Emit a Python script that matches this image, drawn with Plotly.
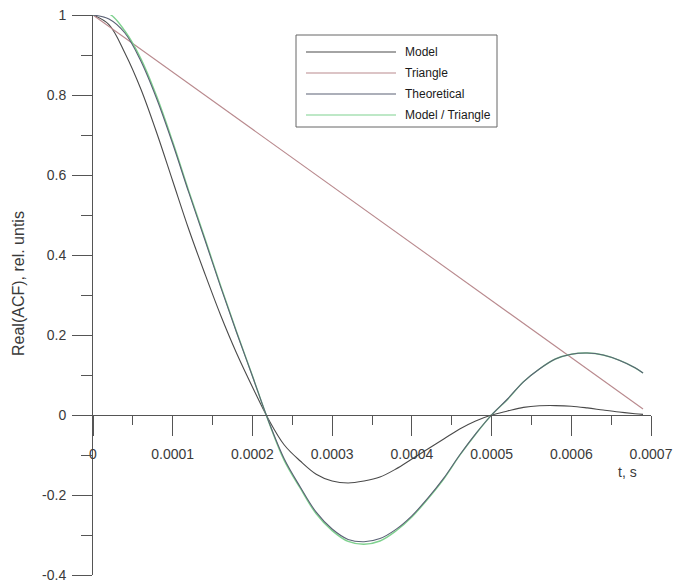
import plotly.graph_objects as go

# ---- data ----
t = [0, 0.00002, 0.00004, 0.00006, 0.00008, 0.0001, 0.00012, 0.00014, 0.00016, 0.00018,
     0.0002, 0.00022, 0.00024, 0.00026, 0.00028, 0.0003, 0.00032, 0.00034, 0.00036, 0.00038,
     0.0004, 0.00042, 0.00044, 0.00046, 0.00048, 0.0005, 0.00052, 0.00054, 0.00056, 0.00058,
     0.0006, 0.00062, 0.00064, 0.00066, 0.00068, 0.00069]

model = [1.0, 0.976, 0.905, 0.815, 0.705, 0.585, 0.465, 0.355, 0.25, 0.155,
         0.07, -0.01, -0.075, -0.115, -0.148, -0.165, -0.17, -0.165, -0.155, -0.135,
         -0.11, -0.085, -0.06, -0.035, -0.015, 0.0, 0.01, 0.019, 0.023, 0.0235,
         0.022, 0.0177, 0.0124, 0.0074, 0.0032, 0.0015]

triangle_t = [0, 0.00069]
triangle = [1.0, 0.015]

theoretical = [1.0, 0.99, 0.955, 0.885, 0.79, 0.678, 0.557, 0.44, 0.321, 0.207,
               0.097, -0.014, -0.11, -0.18, -0.243, -0.285, -0.311, -0.317, -0.309, -0.286,
               -0.252, -0.208, -0.158, -0.1, -0.047, 0.0, 0.04, 0.083, 0.115, 0.14,
               0.152, 0.155, 0.15, 0.137, 0.118, 0.105]

model_triangle = [1.0, 1.003, 0.96, 0.891, 0.796, 0.683, 0.561, 0.444, 0.324, 0.209,
                  0.098, -0.015, -0.114, -0.183, -0.247, -0.289, -0.316, -0.323, -0.315, -0.29,
                  -0.255, -0.21, -0.16, -0.101, -0.048, 0.0, 0.039, 0.083, 0.115, 0.14,
                  0.152, 0.155, 0.15, 0.137, 0.118, 0.105]

x_tick_vals = [0, 0.0001, 0.0002, 0.0003, 0.0004, 0.0005, 0.0006, 0.0007]
x_tick_text = ["0", "0.0001", "0.0002", "0.0003", "0.0004", "0.0005", "0.0006", "0.0007"]
y_tick_vals = [-0.4, -0.2, 0, 0.2, 0.4, 0.6, 0.8, 1]
y_tick_text = ["-0.4", "-0.2", "0", "0.2", "0.4", "0.6", "0.8", "1"]

names = ["Model", "Triangle", "Theoretical", "Model / Triangle"]
colors = ["#4a4a4a", "#b98a8e", "#5a6175", "#7fd18f"]

FONT = "Liberation Sans, Arial, sans-serif"
AX = "#555555"
TXT = "#3a3a3a"

fig = go.Figure()
fig.add_trace(go.Scatter(x=t, y=model, mode="lines", name=names[0],
                         line=dict(color=colors[0], width=1.1, shape="spline")))
fig.add_trace(go.Scatter(x=triangle_t, y=triangle, mode="lines", name=names[1],
                         line=dict(color=colors[1], width=1.1)))
fig.add_trace(go.Scatter(x=t, y=model_triangle, mode="lines", name=names[3],
                         line=dict(color=colors[3], width=1.4, shape="spline")))
fig.add_trace(go.Scatter(x=t, y=theoretical, mode="lines", name=names[2],
                         line=dict(color=colors[2], width=1.1, shape="spline")))

# plot area geometry (paper coords)
L, R, T, B = 93, 651, 15, 575
W, H = 675, 586
def px(x):
    return (x - L) / (R - L)
def py(y):
    return (B - y) / (B - T)

fig.update_layout(
    width=W, height=H, autosize=False,
    margin=dict(l=L, r=W - R, t=T, b=H - B, pad=0, autoexpand=False),
    paper_bgcolor="white", plot_bgcolor="white",
    showlegend=False,
    font=dict(family=FONT, size=14, color=TXT),
    xaxis=dict(range=[0, 0.0007], anchor="free", position=0.4 / 1.4, automargin=False,
               showgrid=False, zeroline=False, showline=True, linecolor=AX, linewidth=1,
               ticks="outside", ticklen=20, tickcolor=AX, tickwidth=1,
               tickvals=x_tick_vals, ticktext=x_tick_text, ticklabelstandoff=6,
               minor=dict(ticks="outside", ticklen=9, tickcolor=AX, tickwidth=1, dtick=0.00005,
                          showgrid=False),
               tickfont=dict(size=14, color=TXT)),
    yaxis=dict(range=[-0.4, 1], automargin=False, showgrid=False, zeroline=False, showline=True,
               linecolor=AX, linewidth=1,
               ticks="outside", ticklen=20, tickcolor=AX, tickwidth=1,
               tickvals=y_tick_vals, ticktext=y_tick_text, ticklabelstandoff=3,
               minor=dict(ticks="outside", ticklen=11, tickcolor=AX, tickwidth=1, dtick=0.1,
                          showgrid=False),
               tickfont=dict(size=14, color=TXT)),
)

# axis titles
fig.add_annotation(text="Real(ACF), rel. untis", xref="paper", yref="paper",
                   x=px(18), y=py(284), textangle=-90, showarrow=False,
                   font=dict(size=16, color=TXT), xanchor="center", yanchor="middle")
fig.add_annotation(text="t, s", xref="paper", yref="paper",
                   x=px(627), y=py(472), showarrow=False,
                   font=dict(size=14, color=TXT), xanchor="center", yanchor="middle")

# custom legend box
fig.add_shape(type="rect", xref="paper", yref="paper",
              x0=px(296), x1=px(497), y0=py(127), y1=py(35),
              line=dict(color="#666666", width=1), fillcolor="white", layer="above")
rows = [52, 73, 94, 115]
for name, col, r in zip(names, colors, rows):
    fig.add_shape(type="line", xref="paper", yref="paper",
                  x0=px(306), x1=px(396), y0=py(r), y1=py(r),
                  line=dict(color=col, width=1.2), layer="above")
    fig.add_annotation(text=name, xref="paper", yref="paper", x=px(403), y=py(r),
                       showarrow=False, xanchor="left", yanchor="middle",
                       font=dict(size=12, color="#1a1a1a"))

fig.write_html("out.html")
